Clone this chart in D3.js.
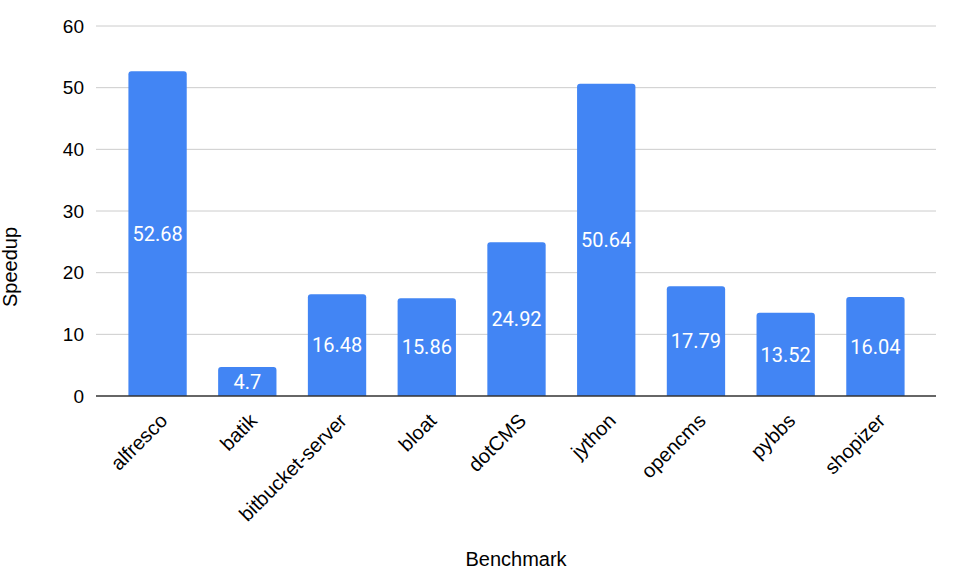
<!DOCTYPE html>
<html><head><meta charset="utf-8">
<script src="https://cdn.jsdelivr.net/npm/d3@7"></script>
<style>body{margin:0;background:#fff}</style>
</head><body>
<svg id="chart" width="964" height="586"></svg>
<script>
const categories = ["alfresco","batik","bitbucket-server","bloat","dotCMS","jython","opencms","pybbs","shopizer"];
const speedup = [52.68,4.7,16.48,15.86,24.92,50.64,17.79,13.52,16.04];
const valueLabels = ["52.68","4.7","16.48","15.86","24.92","50.64","17.79","13.52","16.04"];
const yTicks = [0,10,20,30,40,50,60];

(function(){
const svg = d3.select("#chart");
const pl = 96, pr = 936, pt = 26, pb = 396;
const axisFont = "Arial, 'Liberation Sans', sans-serif";

const x = d3.scaleBand().domain(categories).range([pl+1, pr]).paddingInner(0.35).paddingOuter(0.35);
const y = d3.scaleLinear().domain([0,60]).range([pb, pt]);

svg.append("g").selectAll("line").data(yTicks.filter(d=>d>0)).join("line")
  .attr("x1", pl).attr("x2", pr)
  .attr("y1", d=>y(d)).attr("y2", d=>y(d))
  .attr("stroke", "#cccccc").attr("stroke-width", 1);

svg.append("g").selectAll("text").data(yTicks).join("text")
  .attr("x", 84).attr("y", d=>y(d)).attr("dy", "0.35em")
  .attr("text-anchor", "end")
  .attr("font-family", axisFont).attr("font-size", 19).attr("fill", "#000")
  .text(d=>d);

const r = 3;
svg.append("g").selectAll("path").data(categories).join("path")
  .attr("fill", "#4285f4")
  .attr("d", (c,i)=>{
    const x0 = x(c), w = x.bandwidth(), y0 = y(speedup[i]), y1 = y(0);
    return `M${x0},${y1}V${y0+r}Q${x0},${y0} ${x0+r},${y0}H${x0+w-r}Q${x0+w},${y0} ${x0+w},${y0+r}V${y1}Z`;
  });

svg.append("line").attr("x1", pl).attr("x2", pr)
  .attr("y1", y(0)).attr("y2", y(0)).attr("stroke", "#333").attr("stroke-width", 1.3);

svg.append("g").selectAll("text").data(categories).join("text")
  .attr("x", c=>x(c)+x.bandwidth()/2)
  .attr("y", (c,i)=>(y(speedup[i])+y(0))/2).attr("dy","0.36em")
  .attr("text-anchor","middle")
  .attr("font-family","Roboto, Arial, sans-serif").attr("font-size",20).attr("fill","#fff")
  .text((c,i)=>valueLabels[i]);

svg.append("g").selectAll("text").data(categories).join("text")
  .attr("transform", c=>`translate(${x(c)+x.bandwidth()/2+11},${pb+26}) rotate(-45)`)
  .attr("text-anchor","end")
  .attr("font-family", axisFont).attr("font-size", 20).attr("fill","#000")
  .text(c=>c);

svg.append("text").attr("transform","translate(17,267) rotate(-90)")
  .attr("text-anchor","middle").attr("font-family",axisFont).attr("font-size",20).attr("fill","#000")
  .text("Speedup");
svg.append("text").attr("x",(pl+pr)/2).attr("y",566)
  .attr("text-anchor","middle").attr("font-family",axisFont).attr("font-size",20).attr("fill","#000")
  .text("Benchmark");
})();
</script>
</body></html>
